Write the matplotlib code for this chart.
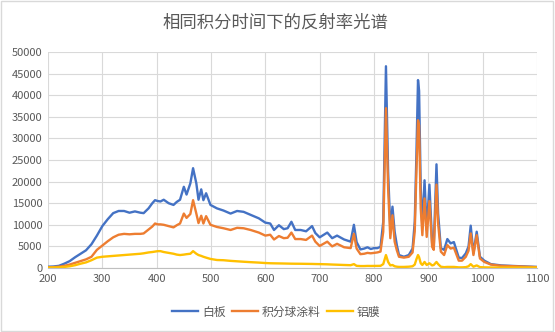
import matplotlib
matplotlib.use("Agg")
import matplotlib.pyplot as plt
from matplotlib.patches import Rectangle

plt.rcParams['font.family'] = ['Noto Sans CJK SC', 'DejaVu Sans']

# wavelength (nm) and measured counts for each sample
wavelength = [200, 210, 220, 230, 240, 250, 260, 270, 280, 290, 300, 310, 320, 330, 340, 350,
              360, 370, 376, 385, 392, 397, 402, 407, 413, 422, 431, 437, 443, 450, 455, 462,
              467, 473, 477, 482, 486, 491, 499, 511, 523, 536, 548, 560, 573, 588, 600, 609,
              616, 625, 634, 641, 648, 655, 665, 675, 686, 692, 700, 714, 723, 732, 745, 757,
              763, 768, 775, 782, 788, 794, 800, 806, 812, 817, 822, 826, 830, 834, 838, 842,
              846, 855, 864, 871, 875, 878, 881, 883, 886, 889, 893, 897, 902, 907, 910, 915,
              918, 923, 929, 935, 941, 947, 956, 962, 969, 974, 978, 983, 989, 995, 1003, 1015,
              1034, 1060, 1080, 1100]

white_board = [300, 350, 500, 1000, 1600, 2500, 3300, 4100, 5500, 7500, 9700, 11300, 12700, 13200, 13200, 12800,
               13100, 12800, 12700, 13800, 15000, 15700, 15500, 15400, 15800, 15000, 14600, 15300, 15800, 18800, 17000, 19600,
               23100, 19600, 15800, 18200, 15700, 17300, 14600, 13800, 13300, 12600, 13200, 13000, 12300, 11500, 10500, 10300,
               8800, 9900, 9000, 9200, 10700, 8800, 8800, 8500, 9700, 8100, 7100, 8200, 6900, 7500, 6600, 6100,
               10000, 6000, 4300, 4500, 4800, 4400, 4600, 4600, 4900, 10700, 46700, 22200, 9200, 14200, 8400, 5300,
               3000, 2600, 3000, 4500, 10700, 26000, 43500, 41000, 18400, 9500, 20300, 8800, 19300, 5700, 5000, 24000,
               12600, 4600, 4200, 6700, 5700, 6000, 2400, 2300, 3400, 5000, 9800, 3400, 8400, 2600, 1700, 900,
               600, 450, 350, 250]

sphere_coating = [150, 200, 300, 500, 800, 1200, 1600, 2000, 2600, 4200, 5200, 6200, 7100, 7700, 7900, 7800,
                  7900, 7900, 8000, 8900, 9600, 10300, 10100, 10100, 10000, 9700, 9400, 9900, 10300, 12600, 11600, 12500,
                  15700, 12600, 10400, 12100, 10300, 12000, 10000, 9500, 9200, 8800, 9300, 9200, 8800, 8200, 7500, 7700,
                  6600, 7400, 6900, 7000, 8200, 6700, 6700, 6500, 7500, 6100, 5100, 6100, 5000, 5600, 4800, 4600,
                  7900, 4500, 3200, 3300, 3500, 3400, 3500, 3600, 3800, 8400, 37000, 18400, 6900, 12200, 6100, 4100,
                  2600, 2400, 2600, 3600, 8500, 22000, 34200, 33000, 13800, 7600, 16100, 7200, 15500, 4900, 4200, 19300,
                  10300, 3800, 3000, 5300, 4500, 4700, 1700, 1700, 2600, 4000, 8000, 3000, 7600, 2200, 1400, 800,
                  500, 400, 300, 200]

aluminium = [100, 120, 150, 250, 400, 650, 1000, 1300, 1800, 2400, 2600, 2700, 2800, 2900, 3000, 3100,
             3200, 3300, 3400, 3600, 3700, 3800, 3900, 3900, 3700, 3500, 3300, 3100, 3000, 3100, 3200, 3300,
             3900, 3300, 3000, 2800, 2600, 2400, 2100, 1850, 1800, 1650, 1550, 1450, 1350, 1250, 1150, 1100,
             1080, 1060, 1040, 1020, 1000, 990, 980, 960, 940, 920, 900, 850, 800, 760, 700, 650,
             900, 500, 450, 450, 480, 470, 480, 490, 500, 900, 3000, 1400, 600, 700, 400, 300,
             250, 250, 300, 400, 800, 2000, 3000, 2500, 1100, 700, 1400, 700, 1100, 600, 700, 1400,
             900, 300, 200, 250, 250, 250, 150, 150, 200, 400, 900, 300, 600, 200, 150, 120,
             100, 100, 100, 100]

labels = ['白板', '积分球涂料', '铝膜']
colors = ['#4472C4', '#ED7D31', '#FFC000']

fig = plt.figure(figsize=(5.55, 3.32), dpi=100)
ax = fig.add_axes([48 / 555, 1 - 268 / 332, (537 - 48) / 555, (268 - 52) / 332])

for series, name, c in zip([white_board, sphere_coating, aluminium], labels, colors):
    ax.plot(wavelength, series, color=c, lw=1.7, label=name, solid_joinstyle='round')

ax.set_xlim(200, 1100)
ax.set_ylim(0, 50000)
ax.set_xticks(range(200, 1101, 100))
ax.set_yticks(range(0, 50001, 5000))
ax.grid(True, color='#D9D9D9', lw=0.8)
ax.set_axisbelow(True)
for side in ['left', 'right', 'top']:
    ax.spines[side].set_visible(False)
ax.spines['bottom'].set_color('#BFBFBF')
ax.spines['bottom'].set_linewidth(0.8)
ax.tick_params(length=0, labelsize=8, labelcolor='#595959', pad=4)

fig.text(0.497, 0.932, '相同积分时间下的反射率光谱', ha='center', va='center',
         fontsize=12.5, color='#595959')

fig.legend(loc='center', bbox_to_anchor=(0.498, 1 - 312 / 332), ncol=3, frameon=False,
           fontsize=8.5, handlelength=2.2, handletextpad=0.35, columnspacing=0.5,
           labelcolor='#595959')

fig.patches.append(Rectangle((0.001, 0.002), 0.996, 0.995, transform=fig.transFigure,
                             fill=False, edgecolor='#D9D9D9', lw=1))

fig.savefig('out.png', dpi=100)
